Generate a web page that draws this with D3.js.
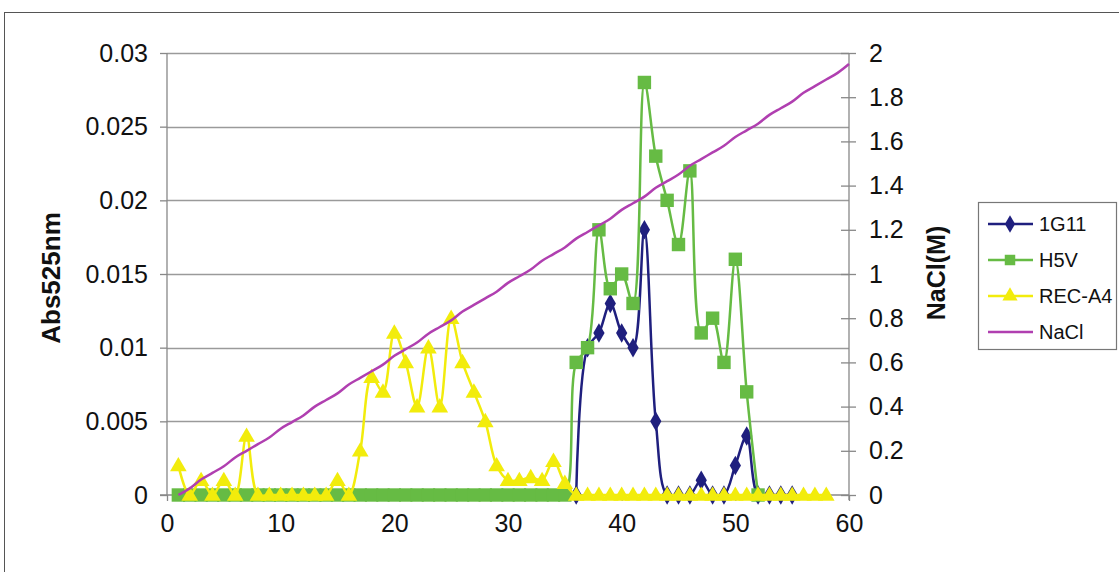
<!DOCTYPE html>
<html><head><meta charset="utf-8">
<script src="https://cdn.jsdelivr.net/npm/d3@7"></script>
<style>body{margin:0;background:#fff;}svg{display:block;font-family:"Liberation Sans",Arial,sans-serif;}</style>
</head><body>
<svg id="c" width="1119" height="572"></svg>
<script>
// ---- data ----
const xTicks = [0, 10, 20, 30, 40, 50, 60];
const absTicks = [0, 0.005, 0.01, 0.015, 0.02, 0.025, 0.03];
const absTickLabels = ["0", "0.005", "0.01", "0.015", "0.02", "0.025", "0.03"];
const naclTicks = [0, 0.2, 0.4, 0.6, 0.8, 1, 1.2, 1.4, 1.6, 1.8, 2];
const naclTickLabels = ["0", "0.2", "0.4", "0.6", "0.8", "1", "1.2", "1.4", "1.6", "1.8", "2"];

const g11X = [36,37,38,39,40,41,42,43,44,45,46,47,48,49,50,51,52,53,54,55];
const g11Y = [0,0.010,0.011,0.013,0.011,0.010,0.018,0.005,0,0,0,0.001,0,0,0.002,0.004,0,0,0,0];

const h5vX = [1,2,3,4,5,6,7,8,9,10,11,12,13,14,15,16,17,18,19,20,21,22,23,24,25,26,27,28,29,30,31,32,33,34,35,36,37,38,39,40,41,42,43,44,45,46,47,48,49,50,51,52];
const h5vY = [0,0,0,0,0,0,0,0,0,0,0,0,0,0,0,0,0,0,0,0,0,0,0,0,0,0,0,0,0,0,0,0,0,0,0,
  0.009,0.010,0.018,0.014,0.015,0.013,0.028,0.023,0.020,0.017,0.022,0.011,0.012,0.009,0.016,0.007,0];

const recX = [1,2,3,4,5,6,7,8,9,10,11,12,13,14,15,16,17,18,19,20,21,22,23,24,25,26,27,28,29,30,31,32,33,34,35,36,37,38,39,40,41,42,43,44,45,46,47,48,49,50,51,52,53,54,55,56,57,58];
const recY = [0.002,0,0.001,0,0.001,0,0.004,0,0,0,0,0,0,0,0.001,0,0.003,0.008,0.007,0.011,0.009,0.006,0.010,0.006,0.012,0.009,0.007,0.005,0.002,0.001,0.001,0.0012,0.001,0.0023,0.0008,
  0,0,0,0,0,0,0,0,0,0,0,0,0,0,0,0,0,0,0,0,0,0,0];

const naclX = [1,2,3,4,5,6,7,8,9,10,11,12,13,14,15,16,17,18,19,20,21,22,23,24,25,26,27,28,29,30,31,32,33,34,35,36,37,38,39,40,41,42,43,44,45,46,47,48,49,50,51,52,53,54,55,56,57,58,59,60];
const naclY = [0,0.03,0.07,0.10,0.13,0.17,0.20,0.23,0.26,0.30,0.33,0.36,0.40,0.43,0.46,0.50,0.53,0.56,0.59,0.63,0.66,0.69,0.73,0.76,0.79,0.83,0.86,0.89,0.92,0.96,0.99,1.02,1.06,1.09,1.12,1.16,1.19,1.22,1.25,1.29,1.32,1.35,1.39,1.42,1.45,1.49,1.52,1.55,1.58,1.62,1.65,1.68,1.72,1.75,1.78,1.82,1.85,1.88,1.91,1.95];

const seriesNames = ["1G11", "H5V", "REC-A4", "NaCl"];

// ---- drawing ----
const svg = d3.select("#c");
const L = 167, R = 849, T = 53, B = 495;
const x = d3.scaleLinear().domain([0, 60]).range([L, R]);
const yA = d3.scaleLinear().domain([0, 0.03]).range([B, T]);
const yN = d3.scaleLinear().domain([0, 2]).range([B, T]);

const C = {g11: "#1f1f7e", h5v: "#66bb44", rec: "#f2ec0c", nacl: "#b03fb0"};

// outer border
svg.append("rect").attr("x", 4.5).attr("y", 12.5).attr("width", 1130).attr("height", 580)
  .attr("fill", "none").attr("stroke", "#555").attr("stroke-width", 1);

// gridlines
svg.append("g").selectAll("line").data(absTicks.filter(d => d > 0)).join("line")
  .attr("x1", L).attr("x2", R).attr("y1", d => Math.round(yA(d)) + 0.5).attr("y2", d => Math.round(yA(d)) + 0.5)
  .attr("stroke", "#9a9a9a").attr("stroke-width", 1.3);

// left axis
const axL = svg.append("g").attr("transform", `translate(${L},0)`)
  .call(d3.axisLeft(yA).tickValues(absTicks).tickFormat((d, i) => absTickLabels[i]).tickSize(7).tickPadding(12));
// right axis
const axR = svg.append("g").attr("transform", `translate(${R},0)`)
  .call(d3.axisRight(yN).tickValues(naclTicks).tickFormat((d, i) => naclTickLabels[i]).tickSize(7).tickPadding(13));
axR.selectAll(".tick line").attr("x1", -8);
// bottom axis
const axB = svg.append("g").attr("transform", `translate(0,${B})`)
  .call(d3.axisBottom(x).tickValues(xTicks).tickFormat(d3.format("d")).tickSize(6).tickPadding(13));

[axL, axR, axB].forEach(a => {
  a.selectAll("path.domain").attr("stroke", "#888").attr("stroke-width", 1.3);
  a.selectAll(".tick line").attr("stroke", "#888").attr("stroke-width", 1.3);
  a.selectAll("text").attr("font-size", 25).attr("fill", "#111").attr("font-family", "Liberation Sans, Arial, sans-serif");
});
axL.select("path.domain").attr("d", `M0,${B}V${T}`);
axR.select("path.domain").attr("d", `M0,${B + 5}V${T}`);
axB.select("path.domain").attr("d", `M${L - 7},0H${R}`);

// axis titles
svg.append("text").attr("transform", `translate(60,278) rotate(-90)`).attr("text-anchor", "middle")
  .attr("font-size", 26).attr("font-weight", "bold").attr("fill", "#111").text("Abs525nm");
svg.append("text").attr("transform", `translate(945,273) rotate(-90)`).attr("text-anchor", "middle")
  .attr("font-size", 25).attr("font-weight", "bold").attr("fill", "#111").text("NaCl(M)");

const curve = d3.curveCatmullRom.alpha(0.5);
function drawLine(xs, ys, yScale, color, w) {
  const pts = xs.map((d, i) => [x(d), yScale(ys[i])]);
  svg.append("path").attr("d", d3.line().curve(curve)(pts)).attr("fill", "none")
    .attr("stroke", color).attr("stroke-width", w).attr("stroke-linejoin", "round");
  return pts;
}
const sym = (type, size) => d3.symbol().type(type).size(size)();
function drawMarkers(pts, path, color, dy) {
  svg.append("g").selectAll("path").data(pts).join("path")
    .attr("transform", d => `translate(${d[0]},${d[1] + (dy || 0)})`).attr("d", path).attr("fill", color);
}

// 1G11
const p1 = drawLine(g11X, g11Y, yA, C.g11, 2.5);
drawMarkers(p1, sym(d3.symbolDiamond, 110), C.g11);
// H5V
const p2 = drawLine(h5vX, h5vY, yA, C.h5v, 2.5);
drawMarkers(p2, sym(d3.symbolSquare, 180), C.h5v);
// REC-A4
const p3 = drawLine(recX, recY, yA, C.rec, 2.5);
drawMarkers(p3, sym(d3.symbolTriangle, 120), C.rec, 1);
// NaCl
drawLine(naclX, naclY, yN, C.nacl, 2.5);

// legend
const lg = svg.append("g");
lg.append("rect").attr("x", 978.5).attr("y", 202.5).attr("width", 138).attr("height", 147)
  .attr("fill", "#fff").attr("stroke", "#777").attr("stroke-width", 1.2);
const lgColors = [C.g11, C.h5v, C.rec, C.nacl];
const lgSyms = [sym(d3.symbolDiamond, 90), sym(d3.symbolSquare, 110), sym(d3.symbolTriangle, 100), null];
seriesNames.forEach((name, i) => {
  const yy = 224 + i * 36;
  lg.append("line").attr("x1", 988).attr("x2", 1033).attr("y1", yy).attr("y2", yy)
    .attr("stroke", lgColors[i]).attr("stroke-width", 2.5);
  if (lgSyms[i]) lg.append("path").attr("d", lgSyms[i]).attr("transform", `translate(1010,${yy})`).attr("fill", lgColors[i]);
  lg.append("text").attr("x", 1039).attr("y", yy + 7).attr("font-size", 20).attr("fill", "#111").text(name);
});
</script>
</body></html>
